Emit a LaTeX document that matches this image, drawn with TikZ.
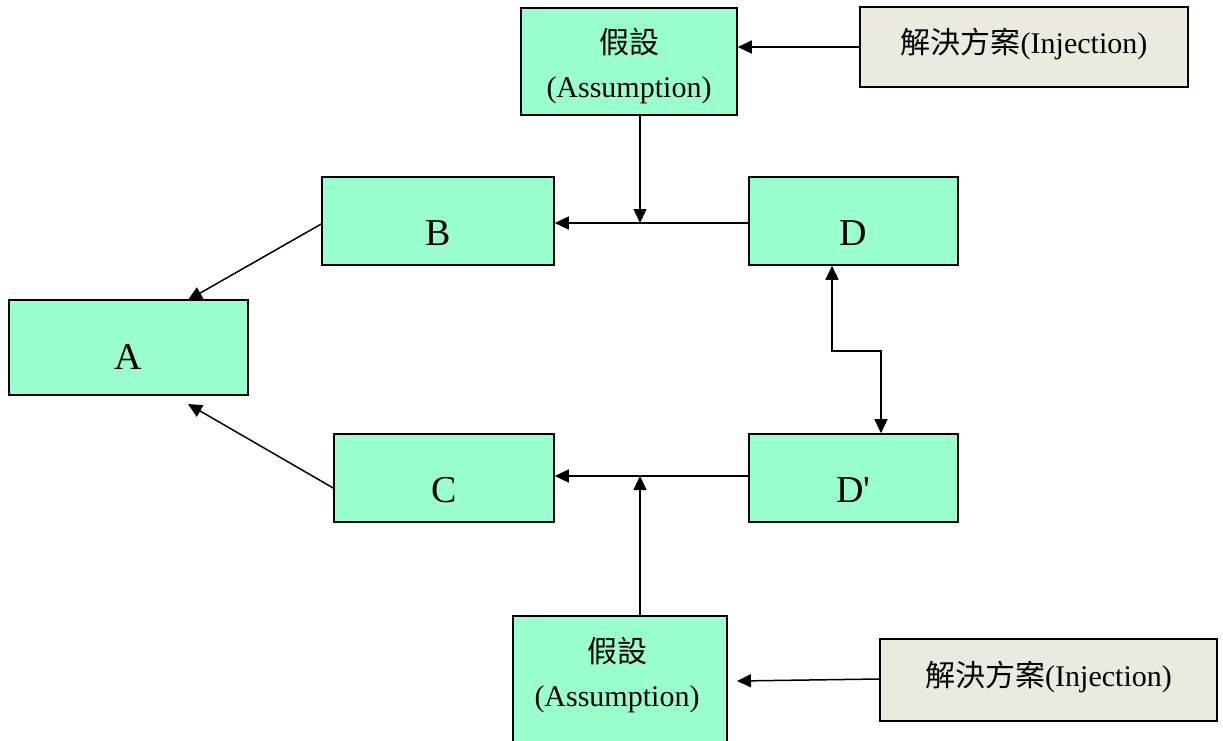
\documentclass[tikz,border=0pt]{standalone}
\usepackage{fontspec}
\setmainfont{Liberation Serif}
\newfontfamily\cjk{Noto Sans CJK TC}
\usetikzlibrary{arrows.meta}
\definecolor{mint}{RGB}{153,255,204}
\definecolor{paper}{RGB}{236,233,222}
\begin{document}
\begin{tikzpicture}[x=1pt,y=-1pt,
  box/.style={draw=black, line width=1.6pt, fill=mint, inner sep=0pt},
  letter/.style={font=\fontsize{38}{40}\selectfont, text height=48pt, text depth=0pt},
  twoline/.style={align=center, font=\fontsize{30}{44}\selectfont},
  inj/.style={draw=black, line width=1.6pt, fill=paper, inner sep=0pt,
              font=\fontsize{30}{36}\selectfont, text height=26pt, text depth=14pt},
  arr/.style={-{Triangle[length=14pt,width=13pt]}, line width=1.5pt},
  dbl/.style={{Triangle[length=14pt,width=13pt]}-{Triangle[length=14pt,width=13pt]}, line width=1.5pt},
  ]
\clip (0,0) rectangle (1223,740);
\fill[white] (0,0) rectangle (1223,740);

% assumption and injection boxes, top
\node[box, minimum width=216pt, minimum height=107pt] (asmT) at (629,61.5) {};
\node[twoline, inner sep=0pt] (asmTtext) at (629,66) {{\cjk 假設}\\(Assumption)};
\node[inj, minimum width=328pt, minimum height=80pt] (injT) at (1024,47) {{\cjk 解決方案}(Injection)};

% main chain
\node[box, letter, minimum width=232pt, minimum height=88pt] (B) at (438,221) {B};
\node[box, letter, minimum width=209pt, minimum height=88pt] (D) at (853.5,221) {D};
\node[box, font=\fontsize{38}{40}\selectfont, text height=43pt, text depth=0pt,
      minimum width=239pt, minimum height=95pt] (A) at (128.5,347.5) {A};
\node[box, letter, minimum width=220pt, minimum height=88pt] (C) at (444,478) {C};
\node[box, letter, minimum width=209pt, minimum height=88pt] (Dp) at (853.5,478) {D\textquotesingle};

% assumption and injection boxes, bottom
\node[box, minimum width=214pt, minimum height=160pt] (asmB) at (620,696) {};
\node[twoline, inner sep=0pt] (asmBtext) at (617,675) {{\cjk 假設}\\(Assumption)};
\node[inj, minimum width=337pt, minimum height=82pt] (injB) at (1048.5,680) {{\cjk 解決方案}(Injection)};

% junction points and free arrow ends
\coordinate (jT) at (640,223);
\coordinate (jB) at (640,476);
\coordinate (aB) at (188,300);
\coordinate (aC) at (188,404);
\coordinate (tipB) at (737,681);

% connectors
\draw[arr] (injT.west) -- (asmT.east |- injT.west);
\draw[arr] (D.west |- jT) -- (B.east |- jT);
\draw[arr] (asmT.south -| jT) -- (jT);
\draw[arr] ([yshift=-3pt]B.west) -- (aB);
\draw[arr] ([yshift=-10pt]C.west) -- (aC);
\draw[arr] (Dp.west |- jB) -- (C.east |- jB);
\draw[arr] (asmB.north -| jB) -- (jB);
\draw[arr] ([yshift=1pt]injB.west) -- (tipB);
\draw[dbl] ([xshift=-21.5pt]D.south) -- ++(0,85) -| ([xshift=27.5pt]Dp.north);
\end{tikzpicture}
\end{document}
